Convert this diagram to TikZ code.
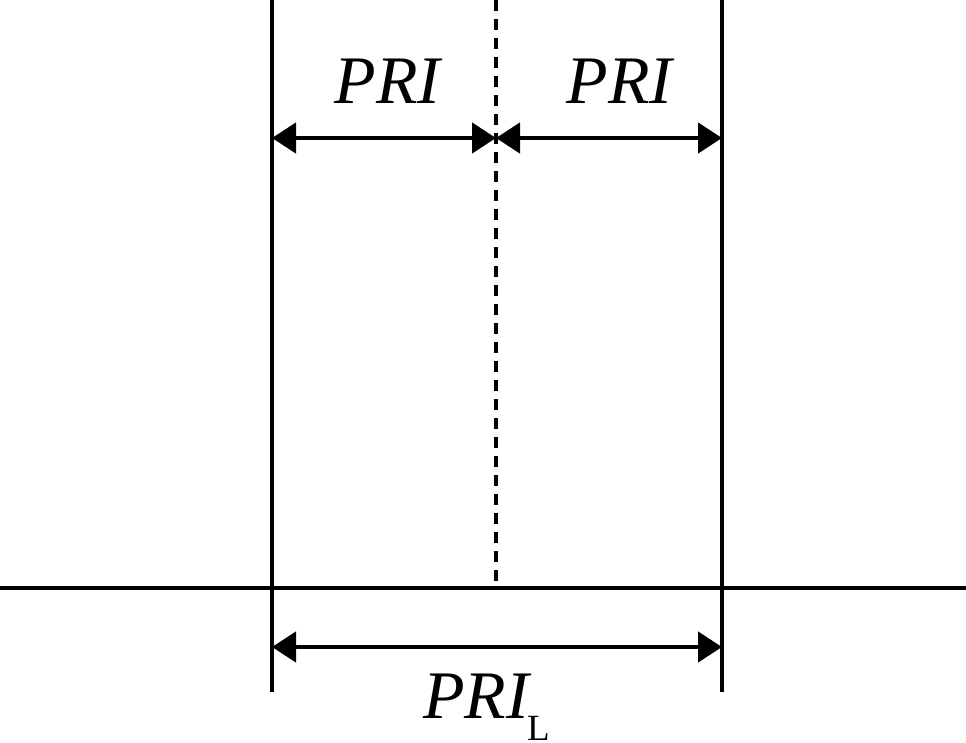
\documentclass[tikz,border=0pt]{standalone}
\usepackage{fontspec}
\setmainfont{Liberation Serif}
\usetikzlibrary{arrows.meta}
\tikzset{
  solidline/.style={line width=4.5pt, line cap=butt},
  dashline/.style={line width=3.5pt, dash pattern=on 11pt off 8pt},
  dimarrow/.style={line width=4.5pt, {Triangle[length=24pt,width=30pt]}-{Triangle[length=24pt,width=30pt]}},
  lbl/.style={font=\fontsize{68}{68}\selectfont\itshape, anchor=base, inner sep=0pt}
}
\begin{document}
\begin{tikzpicture}[x=1pt,y=-1pt]
\useasboundingbox (0,0) rectangle (966,742);
% coordinates
\coordinate (LT) at (272,0);
\coordinate (LB) at (272,692);
\coordinate (RT) at (722,0);
\coordinate (RB) at (722,692);
\coordinate (MT) at (496,0);
\coordinate (MB) at (496,588);
\coordinate (HL) at (0,588);
\coordinate (HR) at (966,588);
\coordinate (A1) at (272,138);
\coordinate (A2) at (496,138);
\coordinate (A3) at (722,138);
\coordinate (B1) at (272,647);
\coordinate (B2) at (722,647);
% lines
\draw[solidline] (LT) -- (LB);
\draw[solidline] (RT) -- (RB);
\draw[solidline] (HL) -- (HR);
\draw[dashline] (MT) -- (MB);
% arrows
\draw[dimarrow] (A1) -- (A2);
\draw[dimarrow] (A2) -- (A3);
\draw[dimarrow] (B1) -- (B2);
% labels
\node[lbl] (p1) at (387.5,103) {PRI};
\node[lbl] (p2) at (619.5,103) {PRI};
\node[lbl, anchor=base west] (p3) at (423,718) {PRI};
\node[font=\fontsize{37}{37}\selectfont, anchor=base west, inner sep=0pt] (sub) at (527,740) {L};
\end{tikzpicture}
\end{document}
